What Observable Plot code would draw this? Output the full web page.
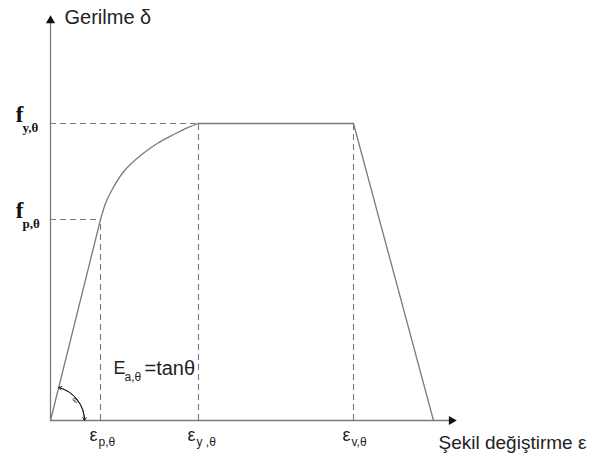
<!DOCTYPE html>
<html><head><meta charset="utf-8">
<script src="https://cdn.jsdelivr.net/npm/d3@7"></script>
<script src="https://cdn.jsdelivr.net/npm/@observablehq/plot@0.6"></script>
<style>body{margin:0;background:#fff}</style>
</head><body><div id="chart"></div>
<script>
// Strain points on the x axis (ε_p, ε_y, ε_v) and end of curve
const strainNames = ["ε", "ε", "ε"];
const strainSubs = ["p,θ", "y ,θ", "v,θ"];
const strainValues = [50, 148, 303];
const strainEnd = 383;
// Stress levels (f_p, f_y)
const stressSubs = ["p,θ", "y,θ"];
const stressValues = [201, 297];
// Elliptic transition
const ellStrain = [50, 55, 61.7, 73.3, 90, 106.7, 123.3, 136.7, 148];
const ellStress = [201, 217, 231, 249, 265, 277, 286, 292.7, 297];
// axis extents
const xAxisEnd = 407;
const yAxisEnd = 406;
const xTitle = "Şekil değiştirme ε";
const yTitle = "Gerilme δ";
const modulusMain = "E";
const modulusSub = "a,θ";
const modulusRest = "=tanθ";
const angleLabel = "θ";

const sans = "Liberation Sans, Arial, sans-serif";
const serif = "Liberation Serif, Times New Roman, serif";
const lineColor = "#7a7a7a";

const linear = [{x: 0, y: 0}, {x: strainValues[0], y: stressValues[0]}];
const ellipse = ellStrain.map((x, i) => ({x, y: ellStress[i]}));
const plateau = [{x: strainValues[1], y: stressValues[1]}, {x: strainValues[2], y: stressValues[1]}];
const fall = [{x: strainValues[2], y: stressValues[1]}, {x: strainEnd, y: 0}];

const hDash = [
  {x1: 0, x2: strainValues[0], y: stressValues[0]},
  {x1: 0, x2: strainValues[1], y: stressValues[1]}
];
const vDash = [
  {x: strainValues[0], y1: 0, y2: stressValues[0]},
  {x: strainValues[1], y1: 0, y2: stressValues[1]},
  {x: strainValues[2], y1: 0, y2: stressValues[1]}
];

// angle arc
const ang = Math.atan2(stressValues[0], strainValues[0]);
const R = 34;
const arcA = {x: R * Math.cos(ang), y: R * Math.sin(ang)};
const arcB = {x: R, y: 0};

const plot = Plot.plot({
  width: 601, height: 457,
  marginLeft: 0, marginRight: 0, marginTop: 0, marginBottom: 0,
  x: {domain: [0, 551], range: [50, 601], axis: null},
  y: {domain: [0, 420], range: [420, 0], axis: null},
  marks: [
    // dashed guides
    Plot.ruleY(hDash, {x1: "x1", x2: "x2", y: "y", stroke: lineColor, strokeWidth: 1.1, strokeDasharray: "6,4"}),
    Plot.ruleX(vDash, {x: "x", y1: "y1", y2: "y2", stroke: lineColor, strokeWidth: 1.1, strokeDasharray: "6,4"}),
    // axes
    Plot.ruleY([0], {x1: 0, x2: xAxisEnd - 6, stroke: lineColor, strokeWidth: 1.3}),
    Plot.ruleX([0], {y1: 0, y2: yAxisEnd - 6, stroke: lineColor, strokeWidth: 1.3}),
    Plot.dot([{x: xAxisEnd - 6, y: 0}], {x: "x", y: "y", symbol: "triangle", r: 3.4, rotate: 90, fill: "#111", stroke: "none"}),
    Plot.dot([{x: 0, y: yAxisEnd - 6}], {x: "x", y: "y", symbol: "triangle", r: 3.4, fill: "#111", stroke: "none"}),
    // curve
    Plot.line(linear, {x: "x", y: "y", stroke: lineColor, strokeWidth: 1.3}),
    Plot.line(ellipse, {x: "x", y: "y", stroke: lineColor, strokeWidth: 1.3, curve: "natural"}),
    Plot.line(plateau, {x: "x", y: "y", stroke: lineColor, strokeWidth: 1.3}),
    Plot.line(fall, {x: "x", y: "y", stroke: lineColor, strokeWidth: 1.3}),
    // angle arc with two heads
    Plot.arrow([{a: arcA, b: arcB}], {x1: d => d.a.x, y1: d => d.a.y, x2: d => d.b.x, y2: d => d.b.y, bend: 38, headLength: 5, stroke: "#222", strokeWidth: 1}),
    Plot.arrow([{a: arcB, b: arcA}], {x1: d => d.a.x, y1: d => d.a.y, x2: d => d.b.x, y2: d => d.b.y, bend: -38, headLength: 5, stroke: "#222", strokeWidth: 1}),
    Plot.text([angleLabel], {x: 25, y: 20, text: d => d, fontSize: 8, rotate: -50, fill: "#333", fontFamily: sans}),
    // axis titles
    Plot.text([yTitle], {x: 0, y: yAxisEnd, text: d => d, dx: 14, dy: 3, textAnchor: "start", fontSize: 20, fill: "#222", fontFamily: sans}),
    Plot.text([xTitle], {x: xAxisEnd, y: 0, text: d => d, dx: -19, dy: 22, textAnchor: "start", fontSize: 19, fill: "#222", fontFamily: sans}),
    // stress labels
    Plot.text(stressValues, {x: 0, y: d => d, text: () => "f", dx: -31, dy: -9, textAnchor: "middle", fontSize: 23, fontWeight: "bold", fontFamily: serif, fill: "#111"}),
    Plot.text(stressValues, {x: 0, y: d => d, text: (d, i) => stressSubs[i], dx: -28, dy: 4, textAnchor: "start", fontSize: 13, fontWeight: "bold", fontFamily: serif, fill: "#111"}),
    // strain labels
    Plot.text(strainValues, {x: d => d, y: 0, text: (d, i) => strainNames[i], dx: -7, dy: 15, textAnchor: "middle", fontSize: 18, fontFamily: sans, fill: "#222"}),
    Plot.text(strainValues, {x: d => d, y: 0, text: (d, i) => strainSubs[i], dx: -2, dy: 22, textAnchor: "start", fontSize: 12, fontFamily: sans, fill: "#222"}),
    // modulus label
    Plot.text([modulusMain], {x: strainValues[0], y: 52, text: d => d, dx: 13, textAnchor: "start", fontSize: 18, fontFamily: sans, fill: "#222"}),
    Plot.text([modulusSub], {x: strainValues[0], y: 52, text: d => d, dx: 24, dy: 9, textAnchor: "start", fontSize: 12, fontFamily: sans, fill: "#222"}),
    Plot.text([modulusRest], {x: strainValues[0], y: 52, text: d => d, dx: 44, textAnchor: "start", fontSize: 20, fontFamily: sans, fill: "#222"})
  ]
});
document.getElementById("chart").appendChild(plot);
</script>
</body></html>
